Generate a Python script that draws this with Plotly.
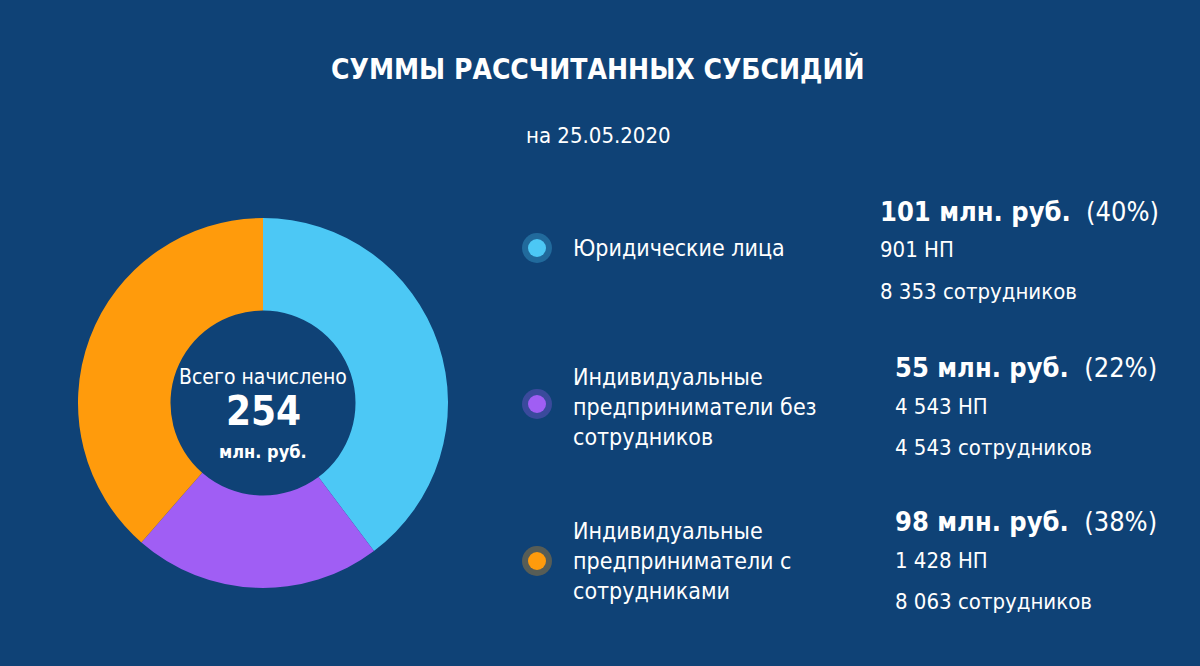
import plotly.graph_objects as go

# данные
categories = ["Юридические лица",
              "Индивидуальные<br>предприниматели без<br>сотрудников",
              "Индивидуальные<br>предприниматели с<br>сотрудниками"]
amounts = [101, 55, 98]          # млн. руб.
shares = [40, 22, 38]            # %
taxpayers = ["901", "4 543", "1 428"]
employees = ["8 353", "4 543", "8 063"]
total = 254
report_date = "25.05.2020"

colors = ["#4cc8f5", "#a05ef4", "#ff9b0c"]
glows = ["rgba(76,200,245,0.3)", "rgba(160,94,244,0.3)", "rgba(255,155,12,0.3)"]
bg = "#0f4276"
font = "Liberation Sans Narrow, DejaVu Sans Condensed, Roboto, sans-serif"

W, H = 1200, 666


def px(x, y):
    # пиксели -> доли листа
    return x / W, 1 - y / H


fig = go.Figure()

cx, cy, r = 263, 403, 185
fig.add_trace(go.Pie(
    labels=[c.replace("<br>", " ") for c in categories], values=amounts,
    hole=0.5, sort=False, direction="clockwise", rotation=0,
    marker=dict(colors=colors, line=dict(width=0)),
    textinfo="none", hoverinfo="label+value", showlegend=False,
    domain=dict(x=[(cx - r) / W, (cx + r) / W], y=[1 - (cy + r) / H, 1 - (cy - r) / H]),
))

annotations = []
shapes = []


def text(x, y, s, size, xanchor="left", color="white"):
    ax, ay = px(x, y)
    annotations.append(dict(x=ax, y=ay, xref="paper", yref="paper", text=s, showarrow=False,
                            xanchor=xanchor, yanchor="middle", align="left",
                            font=dict(family=font, size=size, color=color)))


text(598, 69, "<b>СУММЫ РАССЧИТАННЫХ СУБСИДИЙ</b>", 28, "center")
text(598, 135, "на " + report_date, 22, "center")

text(cx, 377, "Всего начислено", 21, "center")
text(cx, 411, "<b>%d</b>" % total, 40, "center")
text(cx, 451, "<b>млн. руб.</b>", 18, "center")

label_y = [248, 407, 561]
marker_y = [248, 404, 561]
value_x = [878, 893, 893]
value_y = [211, 367, 521]

for i in range(len(categories)):
    mx, my = 537, marker_y[i]
    for rad, col in [(15, glows[i]), (9, colors[i])]:
        x0, y0 = px(mx - rad, my + rad)
        x1, y1 = px(mx + rad, my - rad)
        shapes.append(dict(type="circle", xref="paper", yref="paper", x0=x0, y0=y0, x1=x1, y1=y1,
                           fillcolor=col, line=dict(width=0)))
    text(571, label_y[i], categories[i], 23)

    vx, vy = value_x[i], value_y[i]
    text(vx, vy, "<b>%d млн. руб.</b>  (%d%%)" % (amounts[i], shares[i]), 27)
    text(vx, vy + 39, taxpayers[i] + " НП", 22)
    text(vx, vy + 80, employees[i] + " сотрудников", 22)

fig.update_layout(
    width=W, height=H,
    paper_bgcolor=bg, plot_bgcolor=bg,
    margin=dict(l=0, r=0, t=0, b=0),
    annotations=annotations, shapes=shapes,
    font=dict(family=font, color="white"),
)

# убираем отступ страницы, чтобы график стоял с угла окна
fig.write_html("out.html", config={"displayModeBar": False},
               post_script="document.body.style.margin='0';")
